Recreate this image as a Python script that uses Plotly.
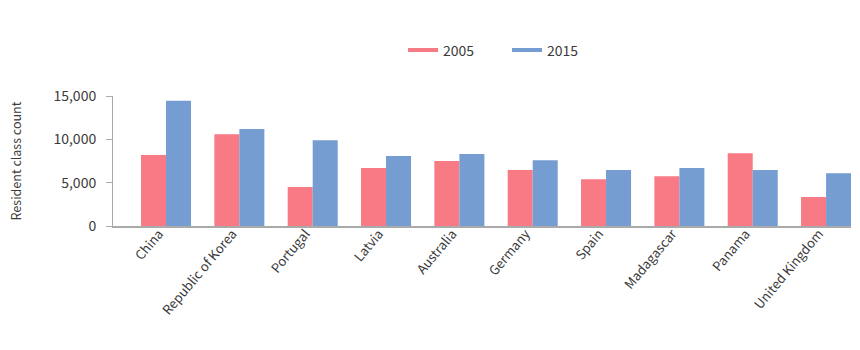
import plotly.graph_objects as go

countries = ["China", "Republic of Korea", "Portugal", "Latvia", "Australia",
             "Germany", "Spain", "Madagascar", "Panama", "United Kingdom"]
v2005 = [8200, 10600, 4500, 6700, 7500, 6450, 5400, 5750, 8400, 3350]
v2015 = [14450, 11200, 9900, 8080, 8300, 7600, 6450, 6700, 6450, 6100]
series_names = ["2005", "2015"]
colors = ["#F87A85", "#759DD1"]
font_family = "Noto Sans CJK KR, Noto Sans, sans-serif"
text_color = "#3a3a3a"

fig = go.Figure()
for name, vals, col in zip(series_names, [v2005, v2015], colors):
    fig.add_trace(go.Bar(x=countries, y=vals, name=name, marker_color=col,
                         marker_line_width=0, showlegend=False))
# legend entries drawn as short lines
for name, col in zip(series_names, colors):
    fig.add_trace(go.Scatter(x=[None], y=[None], mode="lines", name=name,
                             line=dict(color=col, width=4)))

fig.update_layout(
    width=860, height=350,
    margin=dict(l=113, r=9, t=96, b=124),
    paper_bgcolor="white", plot_bgcolor="white",
    barmode="group", bargap=0.318, bargroupgap=0,
    font=dict(family=font_family, size=14, color=text_color),
    legend=dict(orientation="h", x=0.393, xanchor="left", y=1.35, yanchor="middle",
                font=dict(size=14, color=text_color), itemwidth=30, tracegroupgap=0,
                entrywidth=59),
    showlegend=True,
)
fig.update_xaxes(range=[-0.723, 9.34], showline=True, linecolor="#aaaaaa", linewidth=2,
                 ticks="", tickangle=-50, tickfont=dict(size=13, color=text_color),
                 ticklabelstandoff=-7, ticklabelshift=-7,
                 showgrid=False)
fig.update_yaxes(range=[0, 15000], tickvals=[0, 5000, 10000, 15000],
                 tickformat=",", showline=True, linecolor="#aaaaaa", linewidth=1,
                 ticks="outside", ticklen=6, tickcolor="#aaaaaa", showgrid=False,
                 zeroline=False, ticklabelstandoff=7,
                 tickfont=dict(size=14, color=text_color),
                 title=dict(text="Resident class count", font=dict(size=12.5, color=text_color),
                            standoff=29))

fig.write_html("out.html")
